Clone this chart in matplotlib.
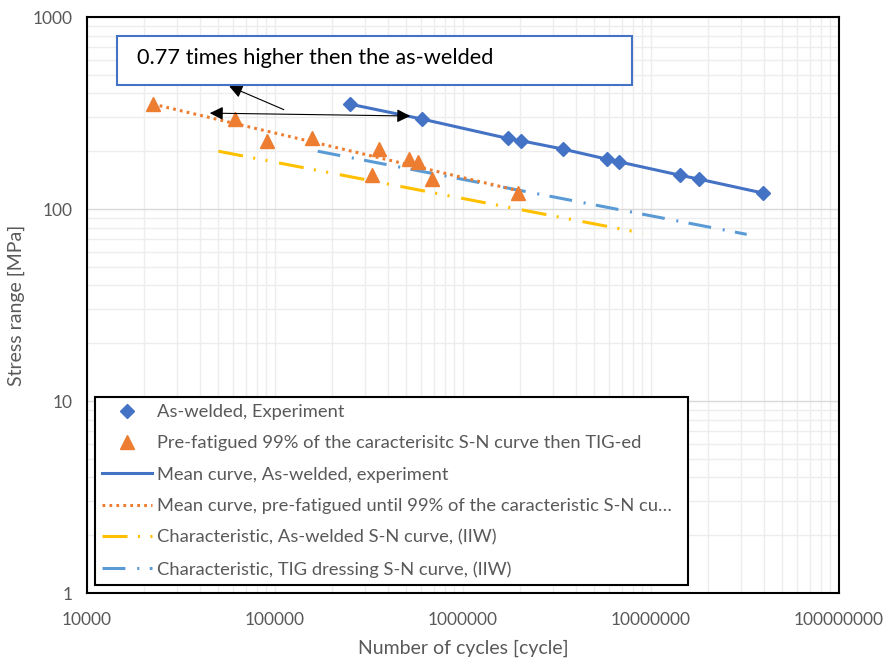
import matplotlib.pyplot as plt
from matplotlib.patches import Rectangle
from matplotlib.ticker import LogLocator, FuncFormatter, NullFormatter

plt.rcParams['font.family'] = ['Lato', 'DejaVu Sans']
plt.rcParams['lines.scale_dashes'] = False

# As-welded experiment (cycles, stress range MPa)
aw_n = [250000, 607000, 1740000, 2030000, 3420000, 5810000, 6780000, 14260000, 18100000, 39600000]
aw_s = [352, 294, 233, 227, 205, 182, 176, 150, 143, 121]

# Pre-fatigued then TIG-ed
tig_n = [22400, 61300, 91000, 156700, 326700, 359000, 517900, 578000, 681000, 1970000]
tig_s = [352, 294, 227, 233, 150, 205, 182, 176, 143, 121]

# Mean curve of the pre-fatigued series
mean_tig_n = [22400, 1940000]
mean_tig_s = [352, 125]

# IIW characteristic curves
iiw_aw_n = [50000, 9100000]
iiw_aw_s = [200, 74.7]
iiw_tig_n = [168700, 32300000]
iiw_tig_s = [200, 73.8]

# arrows (data coordinates)
harrow = [(43500, 316), (542000, 305)]
parrow = [(115000, 325), (55300, 442)]

blue = '#4472C4'
orange = '#ED7D31'
yellow = '#FFC000'
lblue = '#5B9BD5'
grey = '#595959'

fig = plt.figure(figsize=(8.86, 6.6), dpi=100)
ax = fig.add_axes([0.0982, 0.1015, 0.8487, 0.8727])

ax.plot(aw_n, aw_s, linestyle='none', marker='D', ms=7, color=blue,
        label='As-welded, Experiment', zorder=5)
ax.plot(tig_n, tig_s, linestyle='none', marker='^', ms=9.5, color=orange,
        label='Pre-fatigued 99% of the caracterisitc S-N curve then TIG-ed', zorder=5)
ax.plot(aw_n, aw_s, color=blue, lw=2.2, label='Mean curve, As-welded, experiment', zorder=4)
l1, = ax.plot(mean_tig_n, mean_tig_s, color=orange, lw=2.2,
              label='Mean curve, pre-fatigued until 99% of the caracteristic S-N cu\u2026', zorder=4)
l1.set_dashes([2, 3])
l2, = ax.plot(iiw_aw_n, iiw_aw_s, color=yellow, lw=2.2,
              label='Characteristic, As-welded S-N curve, (IIW)', zorder=3)
l2.set_dashes([18, 7.5, 1.5, 7.5, 1.5, 8.5])
l3, = ax.plot(iiw_tig_n, iiw_tig_s, color=lblue, lw=2.2,
              label='Characteristic, TIG dressing S-N curve, (IIW)', zorder=3)
l3.set_dashes([16.5, 8.5, 1.5, 7.5])

ax.set_xscale('log')
ax.set_yscale('log')
ax.set_xlim(1e4, 1e8)
ax.set_ylim(1, 1000)

ax.xaxis.set_major_locator(LogLocator(base=10, numticks=10))
ax.yaxis.set_major_locator(LogLocator(base=10, numticks=10))
ax.xaxis.set_minor_locator(LogLocator(base=10, subs=range(2, 10), numticks=20))
ax.yaxis.set_minor_locator(LogLocator(base=10, subs=range(2, 10), numticks=20))
fmt = FuncFormatter(lambda v, p: '{:.0f}'.format(v))
ax.xaxis.set_major_formatter(fmt)
ax.yaxis.set_major_formatter(fmt)
ax.xaxis.set_minor_formatter(NullFormatter())
ax.yaxis.set_minor_formatter(NullFormatter())
ax.tick_params(which='both', length=0, labelsize=12.5, labelcolor=grey)
ax.tick_params(axis='x', pad=14)
ax.tick_params(axis='y', pad=10)

ax.grid(True, which='minor', color='#EDEDED', lw=1, zorder=0)
ax.grid(True, which='major', axis='x', color='#EDEDED', lw=1, zorder=0)
ax.grid(True, which='major', axis='y', color='#D9D9D9', lw=1, zorder=0)
ax.set_axisbelow(True)
for sp in ax.spines.values():
    sp.set_color('black')
    sp.set_linewidth(1.5)

ax.set_xlabel('Number of cycles [cycle]', fontsize=14, color=grey, labelpad=8)
ax.set_ylabel('Stress range [MPa]', fontsize=14, color=grey, labelpad=6)

# annotation arrows
ax.annotate('', xy=harrow[0], xytext=harrow[1],
            arrowprops=dict(arrowstyle='<|-|>', color='black', lw=0.8, mutation_scale=20), zorder=6)
ax.annotate('', xy=parrow[1], xytext=parrow[0],
            arrowprops=dict(arrowstyle='-|>', color='black', lw=0.8, mutation_scale=20), zorder=6)

# text box
ax.add_patch(Rectangle((0.0399, 0.882), 0.6848, 0.085, transform=ax.transAxes,
                       facecolor='white', edgecolor=blue, lw=1.5, zorder=7))
ax.text(0.0665, 0.929, '0.77 times higher then the as-welded', transform=ax.transAxes,
        fontsize=15.7, color='black', va='center', ha='left', zorder=8)

leg = ax.legend(loc='lower left', bbox_to_anchor=(0.0106, 0.0139, 0.788, 0.326), mode='expand',
                fontsize=13.2, labelcolor=grey, frameon=True, fancybox=False,
                edgecolor='black', framealpha=1, handlelength=2.7, handletextpad=0.28,
                labelspacing=0.84, borderpad=0.4, borderaxespad=0)
leg.get_frame().set_linewidth(1.5)
leg.set_zorder(9)

fig.savefig('out.png', dpi=100)
